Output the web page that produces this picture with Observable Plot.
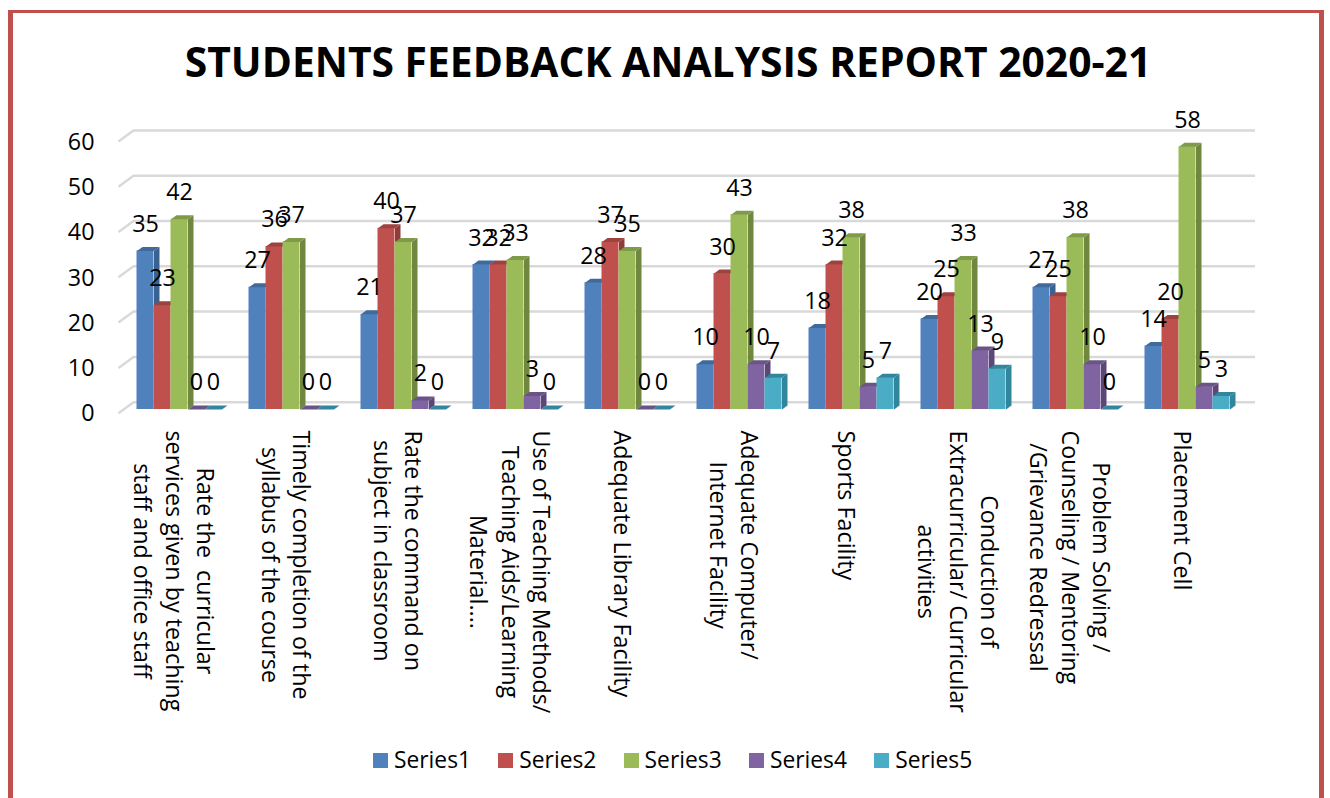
<!DOCTYPE html>
<html>
<head>
<meta charset="utf-8">
<script src="https://cdn.jsdelivr.net/npm/d3@7"></script>
<script src="https://cdn.jsdelivr.net/npm/@observablehq/plot@0.6"></script>
<style>
  html, body { margin: 0; padding: 0; background: #fff; }
  #page { position: relative; width: 1330px; height: 798px; overflow: hidden; font-family: "Open Sans", sans-serif; color: #000; }
  #frame { position: absolute; left: 8px; top: 10px; width: 1316px; height: 800px; box-sizing: border-box; border: solid #c0504d; border-width: 3px 5px 0 5px; }
  #title { position: absolute; left: 0; width: 1336px; top: 32px; text-align: center; font-weight: 700; font-size: 40.8px; line-height: 58px; white-space: nowrap; }
  #chart { position: absolute; left: 0; top: 110px; }
  #legend { position: absolute; left: 373px; top: 745px; display: flex; font-size: 22.8px; line-height: 30px; }
  .item { width: 125.3px; display: flex; align-items: center; white-space: nowrap; }
  .swatch { width: 15px; height: 15px; margin-right: 6px; }
</style>
</head>
<body>
<div id="page">
  <div id="frame"></div>
  <div id="title"></div>
  <div id="chart"></div>
  <div id="legend"></div>
</div>
<script>
const titleText = "STUDENTS FEEDBACK ANALYSIS REPORT 2020-21";
const categories = [
  ["Rate the  curricular", "services given by teaching", "staff and office staff"],
  ["Timely completion of the", "syllabus of the course"],
  ["Rate the command on", "subject in classroom"],
  ["Use of Teaching Methods/", "Teaching Aids/Learning", "Material...."],
  ["Adequate Library Facility"],
  ["Adequate Computer/", "Internet Facility"],
  ["Sports Facility"],
  ["Conduction of", "Extracurricular/ Curricular", "activities"],
  ["Problem Solving /", "Counseling / Mentoring", "/Grievance Redressal"],
  ["Placement Cell"]
];
const seriesNames = ["Series1", "Series2", "Series3", "Series4", "Series5"];
const series1 = [35, 27, 21, 32, 28, 10, 18, 20, 27, 14];
const series2 = [23, 36, 40, 32, 37, 30, 32, 25, 25, 20];
const series3 = [42, 37, 37, 33, 35, 43, 38, 33, 38, 58];
const series4 = [0, 0, 2, 3, 0, 10, 5, 13, 10, 5];
const series5 = [0, 0, 0, 0, 0, 7, 7, 9, 0, 3];
const yTicks = [0, 10, 20, 30, 40, 50, 60];
const values = [series1, series2, series3, series4, series5];
const frontColors = ["#4f81bd", "#c0504d", "#9bbb59", "#8064a2", "#4bacc6"];
const sideColors = ["#3a6290", "#8f3b39", "#6f873f", "#5c4877", "#31859c"];
const topColors = ["#416a9c", "#9e423f", "#7f9a49", "#6a5387", "#31859c"];

// Scale geometry (pixels inside the SVG, which begins 110px down the page)
const W = 1330, H = 620;
const pxPerCat = 112, pxPerUnit = 4.53, baseY = 299, x0px = 123;
const barW = 17 / pxPerCat, leftPad = 13.5 / pxPerCat;
const depthX = 5.5 / pxPerCat, depthY = 4 / pxPerUnit;
const xDom = [0, 10], yDom = [0, 60];

const font = '"Open Sans", sans-serif';
const fs = 23.3;

const ctx = document.createElement("canvas").getContext("2d");
ctx.font = `${fs}px ${font}`;

const rows = values.map((arr, s) => arr.map((v, i) => {
  const x1 = i + leftPad + s * barW;
  return {s, i, v, x1, x2: x1 + barW, xm: x1 + barW / 2};
}));

const barMarks = rows.flatMap((data, s) => {
  const side = data.flatMap(d => [
    {id: d.i, x: d.x2, y: 0},
    {id: d.i, x: d.x2 + depthX, y: depthY},
    {id: d.i, x: d.x2 + depthX, y: d.v + depthY},
    {id: d.i, x: d.x2, y: d.v}
  ]);
  const top = data.flatMap(d => [
    {id: d.i, x: d.x1, y: d.v},
    {id: d.i, x: d.x2, y: d.v},
    {id: d.i, x: d.x2 + depthX, y: d.v + depthY},
    {id: d.i, x: d.x1 + depthX, y: d.v + depthY}
  ]);
  return [
    Plot.rect(data, {x1: "x1", x2: "x2", y1: 0, y2: "v", fill: frontColors[s], insetLeft: 0, insetRight: 0}),
    Plot.line(side, {x: "x", y: "y", z: "id", fill: sideColors[s], stroke: "none"}),
    Plot.line(top, {x: "x", y: "y", z: "id", fill: topColors[s], stroke: "none"})
  ];
});

const stubX1 = (118 - x0px) / pxPerCat, stubX2 = (133 - x0px) / pxPerCat;
const wallEnd = (1255 - x0px) / pxPerCat;
const stubFront = -3.7 / pxPerUnit, stubBack = 7.3 / pxPerUnit;

const labelMarks = categories.map((lines, i) => {
  const longest = d3.max(lines, l => ctx.measureText(l).width);
  return Plot.text([{i, t: lines.join("\n")}], {
    x: d => d.i + leftPad + 2.28 * barW,
    y: () => 0,
    text: "t",
    rotate: 90,
    textAnchor: "middle",
    lineAnchor: "middle",
    lineHeight: 1.37,
    fontSize: fs,
    fontFamily: font,
    fill: "#000",
    dy: 21 + longest / 2
  });
});

const plot = Plot.plot({
  width: W,
  height: H,
  marginLeft: 118,
  marginTop: 0,
  marginRight: 0,
  marginBottom: 0,
  style: {background: "transparent", fontFamily: font, overflow: "visible"},
  x: {domain: xDom, range: [x0px, x0px + pxPerCat * 10], axis: null},
  y: {domain: yDom, range: [baseY, baseY - 60 * pxPerUnit]},
  marks: [
    Plot.ruleY(yTicks, {x1: stubX2, x2: wallEnd, y: d => d + stubBack, stroke: "#d9d9d9", strokeWidth: 2.5}),
    Plot.link(yTicks, {x1: stubX1, x2: stubX2, y1: d => d + stubFront, y2: d => d + stubBack, stroke: "#d9d9d9", strokeWidth: 2.5}),
    Plot.axisY(yTicks, {tickSize: 0, tickPadding: 24, dy: 4.5, label: null, fontSize: fs, fontFamily: font, fill: "#000"}),
    ...barMarks,
    ...rows.map(data => Plot.text(data, {x: "xm", y: "v", text: d => String(d.v), dy: -26.5, fontSize: fs, fontFamily: font, fill: "#000"})),
    ...labelMarks
  ]
});
document.getElementById("chart").append(plot);
document.getElementById("title").textContent = titleText;
const legend = document.getElementById("legend");
seriesNames.forEach((name, s) => {
  const item = document.createElement("div");
  item.className = "item";
  const sw = document.createElement("span");
  sw.className = "swatch";
  sw.style.background = frontColors[s];
  const label = document.createElement("span");
  label.textContent = name;
  item.append(sw, label);
  legend.append(item);
});
</script>
</body>
</html>
